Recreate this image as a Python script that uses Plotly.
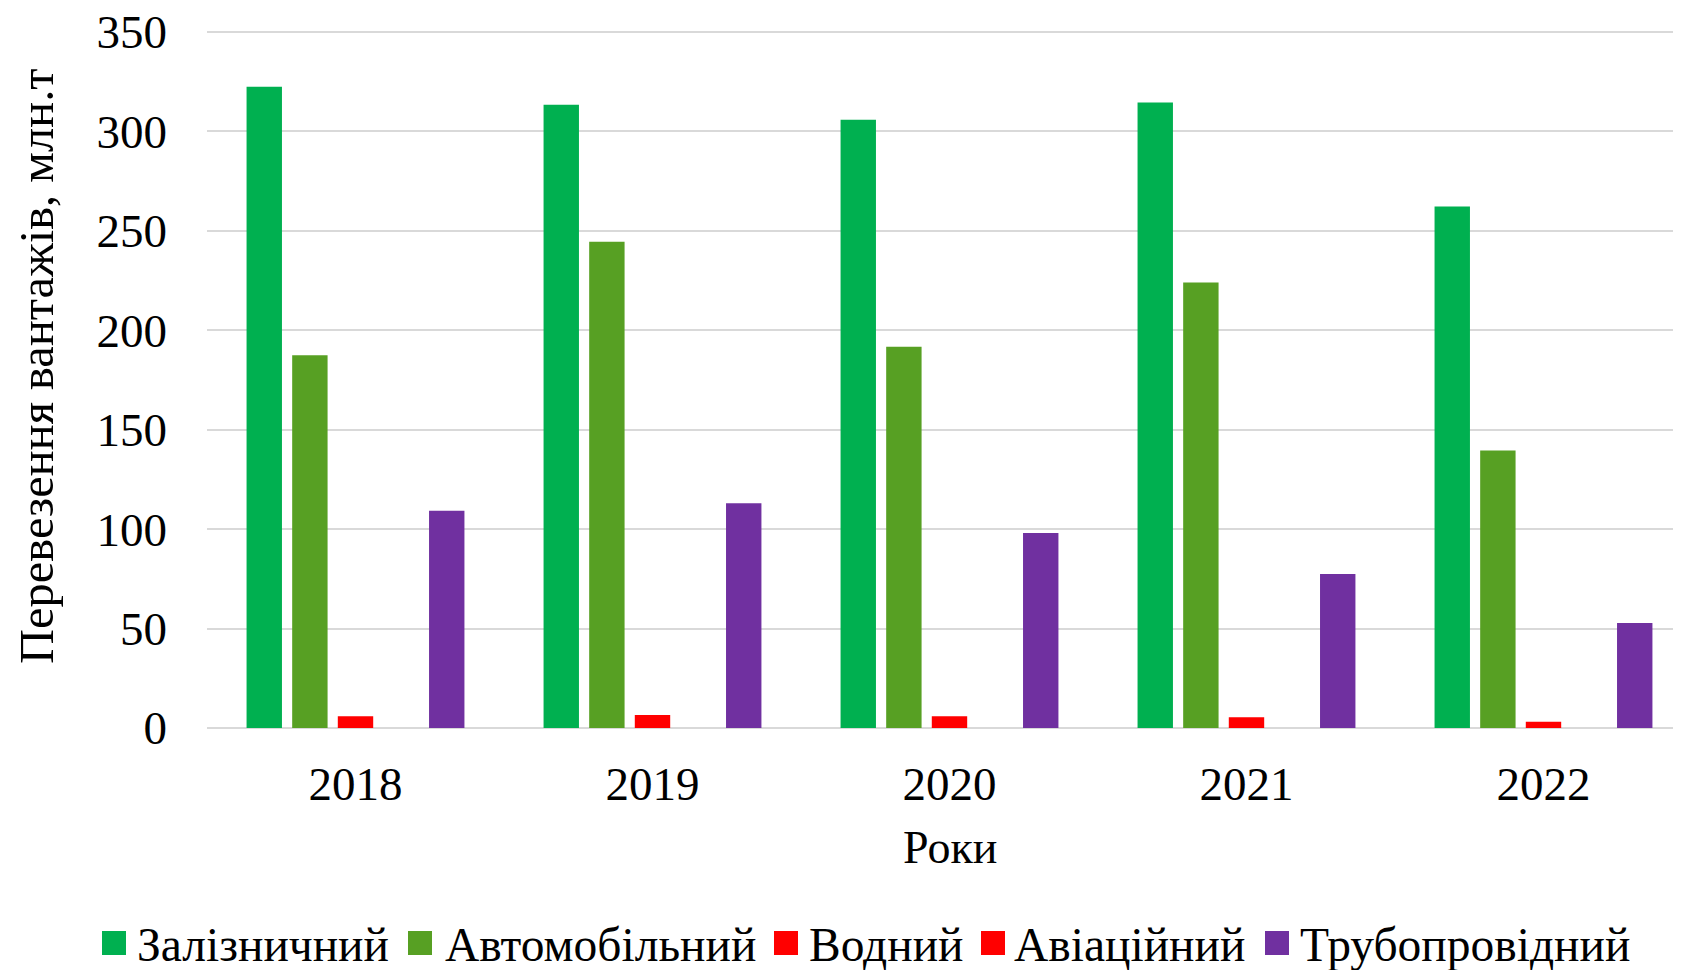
import plotly.graph_objects as go

years = ["2018", "2019", "2020", "2021", "2022"]

rail = [322.5, 313.4, 305.9, 314.5, 262.3]
road = [187.4, 244.5, 191.7, 224.0, 139.5]
water = [5.9, 6.5, 5.9, 5.4, 3.2]
air = [0, 0, 0, 0, 0]
pipe = [109.3, 113.0, 98.0, 77.5, 52.8]

names = ["Залізничний", "Автомобільний", "Водний", "Авіаційний", "Трубопровідний"]
values = [rail, road, water, air, pipe]
colors = ["#00B050", "#57A023", "#FF0000", "#FF0000", "#7030A0"]

FONT = "Liberation Serif"

# figure geometry (page shows the figure with an 8px offset)
W, H = 1681, 970
L, R, T, B = 199, 8, 22, 250
OFF = 8
PW, PH = W - L - R, H - T - B


def px_x(img_x):
    return (img_x - OFF - L) / PW


def px_y(img_y):
    return (H - B - (img_y - OFF)) / PH


fig = go.Figure()
for name, vals, color in zip(names, values, colors):
    fig.add_trace(go.Bar(
        x=years, y=vals, name=name, showlegend=False,
        marker=dict(color=color, line=dict(width=0)),
    ))

# hand-built legend row: square swatch + label
legend_sq_x = [102, 408, 774, 981, 1265]
legend_txt_x = [135, 443, 807, 1012, 1298]
legend_y = 943
sq = 24
for name, color, sx, tx in zip(names, colors, legend_sq_x, legend_txt_x):
    fig.add_shape(
        type="rect", xref="paper", yref="paper",
        x0=px_x(sx), x1=px_x(sx + sq),
        y0=px_y(legend_y + sq / 2), y1=px_y(legend_y - sq / 2),
        fillcolor=color, line=dict(width=0),
    )
    fig.add_annotation(
        text=name, xref="paper", yref="paper",
        x=px_x(tx), y=px_y(legend_y + 2), xanchor="left", yanchor="middle",
        showarrow=False, font=dict(size=47.5, family=FONT, color="black"),
    )

# axis titles, placed like the original
fig.add_annotation(
    text="Перевезення вантажів, млн.т", textangle=-90,
    xref="paper", yref="paper", x=px_x(36), y=px_y(367),
    xanchor="center", yanchor="middle", showarrow=False,
    font=dict(size=48.5, family=FONT, color="black"),
)
fig.add_annotation(
    text="Роки", xref="paper", yref="paper", x=px_x(950), y=px_y(847),
    xanchor="center", yanchor="middle", showarrow=False,
    font=dict(size=46, family=FONT, color="black"),
)

fig.update_layout(
    width=W, height=H,
    paper_bgcolor="white", plot_bgcolor="white",
    font=dict(family=FONT, color="black", size=46),
    barmode="group", bargap=0.232, bargroupgap=0.224,
    margin=dict(l=L, r=R, t=T, b=B, autoexpand=False),
    showlegend=False,
)
fig.update_xaxes(
    range=[-0.5, 4.463], showgrid=False, showline=False, ticks="",
    tickfont=dict(size=47, family=FONT), ticklabelstandoff=24,
)
fig.update_yaxes(
    range=[0, 351], tick0=0, dtick=50, showgrid=True, gridcolor="#D9D9D9", gridwidth=1.5,
    zeroline=True, zerolinecolor="#D9D9D9", zerolinewidth=2,
    tickfont=dict(size=47, family=FONT), ticks="", ticklabelstandoff=39,
    ticklabeloverflow="allow",
)

fig.write_html("out.html")
